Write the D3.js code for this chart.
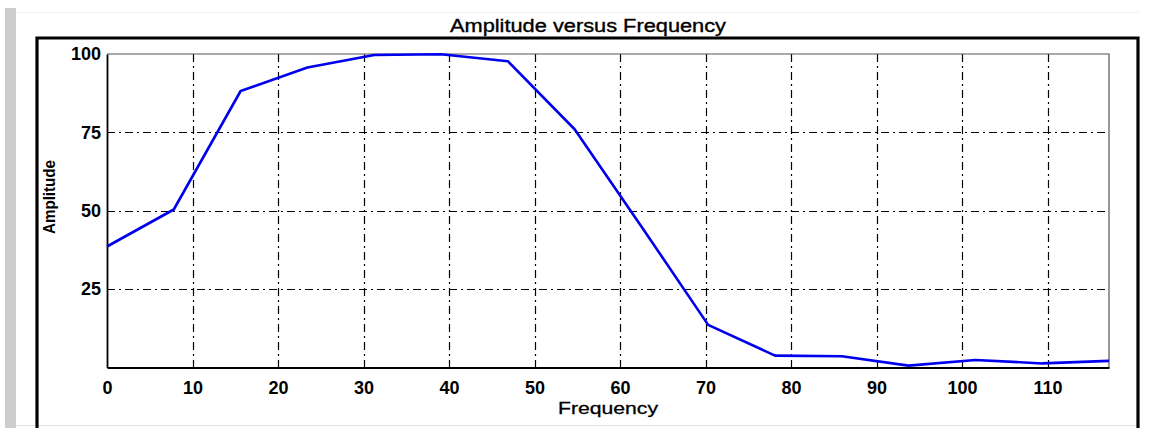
<!DOCTYPE html>
<html>
<head>
<meta charset="utf-8">
<script src="https://cdn.jsdelivr.net/npm/d3@7/dist/d3.min.js"></script>
<style>
  html, body { margin: 0; padding: 0; background: #fff; }
  svg { display: block; }
  text { font-family: "Liberation Sans", Arial, sans-serif; fill: #000; }
</style>
</head>
<body>
<svg id="chart" width="1155" height="428"></svg>
<script>
// Spectrum samples: frequency bins and their amplitudes
const frequency = [0, 7.81, 15.63, 23.44, 31.25, 39.06, 46.88, 54.69, 62.5, 70.31, 78.13, 85.94, 93.75, 101.56, 109.38, 117.19];
const amplitude = [38.6, 50.4, 88.2, 95.7, 99.7, 99.9, 97.7, 76.0, 45.0, 13.6, 3.8, 3.6, 0.6, 2.4, 1.3, 2.1];

const xTicks = [0, 10, 20, 30, 40, 50, 60, 70, 80, 90, 100, 110];
const yTicks = [25, 50, 75, 100];

const title = "Amplitude versus Frequency";
const xLabel = "Frequency";
const yLabel = "Amplitude";

const svg = d3.select("#chart");
const W = 1155, H = 428;

const plot = { left: 107, right: 1109, top: 54, bottom: 367.5 };

const x = d3.scaleLinear().domain([0, 117.19]).range([plot.left, plot.right]);
const y = d3.scaleLinear().domain([0, 100]).range([plot.bottom, plot.top]);

// window chrome: grey strip on the left and faint borders
svg.append("rect").attr("x", 5).attr("y", 8).attr("width", 11).attr("height", H - 8).attr("fill", "#cdcdcd");
svg.append("line").attr("x1", 16).attr("x2", 1140).attr("y1", 12.5).attr("y2", 12.5)
  .attr("stroke", "#f2f2f2").attr("stroke-width", 1);
svg.append("line").attr("x1", 16).attr("x2", 1140).attr("y1", 425.5).attr("y2", 425.5)
  .attr("stroke", "#e4e4e4").attr("stroke-width", 1);

// heavy outer frame (continues below the visible area)
svg.append("path")
  .attr("d", `M37,${H + 10} L37,38 L1138,38 L1138,${H + 10}`)
  .attr("fill", "none").attr("stroke", "#000").attr("stroke-width", 3.2);

// title
svg.append("text")
  .attr("x", 588).attr("y", 32)
  .attr("text-anchor", "middle")
  .attr("font-size", 18)
  .attr("textLength", 276).attr("lengthAdjust", "spacingAndGlyphs")
  .attr("stroke", "#000").attr("stroke-width", 0.35)
  .text(title);

// grid: dash-dot lines
const grid = svg.append("g")
  .attr("stroke", "#000").attr("stroke-width", 1.2).attr("stroke-dasharray", "8,4,2,4");

grid.selectAll("line.v")
  .data(xTicks.filter(d => d > 0))
  .join("line")
  .attr("x1", d => Math.round(x(d)) + 0.5).attr("x2", d => Math.round(x(d)) + 0.5)
  .attr("y1", plot.top).attr("y2", plot.bottom);

grid.selectAll("line.h")
  .data(yTicks.filter(d => d < 100))
  .join("line")
  .attr("y1", d => Math.round(y(d)) + 0.5).attr("y2", d => Math.round(y(d)) + 0.5)
  .attr("x1", plot.left).attr("x2", plot.right);

// plot box: light top/right edges, dark axes
svg.append("path")
  .attr("d", `M${plot.left},${plot.top} L${plot.right},${plot.top} L${plot.right},${plot.bottom}`)
  .attr("fill", "none").attr("stroke", "#555").attr("stroke-width", 1.2);

const xAxis = d3.axisBottom(x).tickValues(xTicks).tickSize(0).tickPadding(14).tickFormat(d3.format("d"));
const yAxis = d3.axisLeft(y).tickValues(yTicks).tickSize(0).tickPadding(6).tickFormat(d3.format("d"));

const gx = svg.append("g").attr("transform", `translate(0,${plot.bottom})`).call(xAxis);
const gy = svg.append("g").attr("transform", `translate(${plot.left},0)`).call(yAxis);

[gx, gy].forEach(g => {
  g.select(".domain").attr("stroke", "#000").attr("stroke-width", 1.8);
  g.selectAll("text")
    .attr("font-family", "'Liberation Sans', Arial, sans-serif")
    .attr("font-size", 18)
    .attr("font-weight", "bold")
    .attr("fill", "#000");
});

// axis titles
svg.append("text")
  .attr("x", 608).attr("y", 414)
  .attr("text-anchor", "middle")
  .attr("font-size", 17)
  .attr("textLength", 100).attr("lengthAdjust", "spacingAndGlyphs")
  .attr("stroke", "#000").attr("stroke-width", 0.3)
  .text(xLabel);

svg.append("text")
  .attr("transform", "translate(55,197) rotate(-90)")
  .attr("text-anchor", "middle")
  .attr("font-size", 17)
  .attr("font-weight", "bold")
  .attr("textLength", 74).attr("lengthAdjust", "spacingAndGlyphs")
  .text(yLabel);

// amplitude curve
const line = d3.line()
  .x((d, i) => x(frequency[i]))
  .y(d => y(d));

svg.append("path")
  .datum(amplitude)
  .attr("d", line)
  .attr("fill", "none")
  .attr("stroke", "#0000ee")
  .attr("stroke-width", 2.6)
  .attr("stroke-linejoin", "round");
</script>
</body>
</html>
